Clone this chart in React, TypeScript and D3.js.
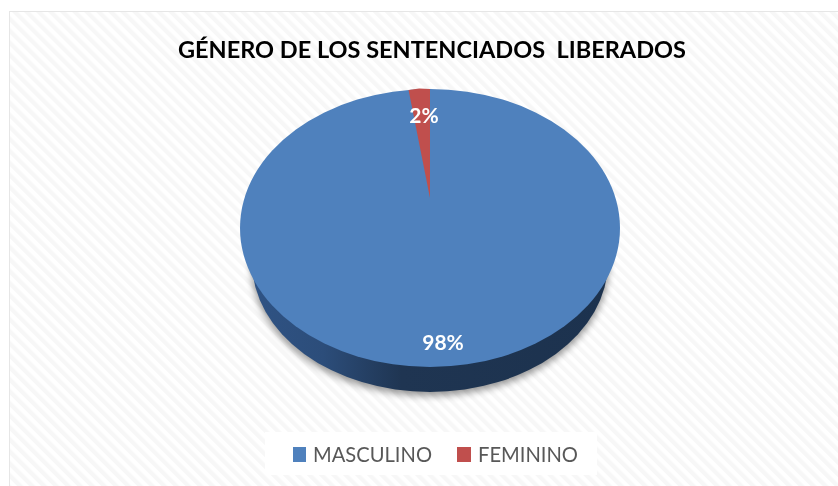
import React from "react";
import * as d3 from "d3";

const categories = ["MASCULINO", "FEMININO"];
const values = [98.2, 1.8];
const labels = ["98%", "2%"];
const colors = ["#4f81bd", "#c0504d"];
const title = "GÉNERO DE LOS SENTENCIADOS  LIBERADOS";

const W = 838, H = 486;
const cx = 430, cy = 228, rx = 190, ry = 139;
const apexY = 198;
const base = { cx: 430, cy: 262, rx: 178, ry: 130 };

const FONT = "Lato, 'Open Sans', sans-serif";

export default function App() {
  // Clockwise from 12 o'clock, so that FEMININO ends exactly at the top.
  const arcs = d3.pie<number>().sort(null).startAngle(0).endAngle(2 * Math.PI)(values);
  const fem = arcs[1];
  const px = d3.scaleLinear().domain([-1, 1]).range([cx - rx, cx + rx]);
  const py = d3.scaleLinear().domain([-1, 1]).range([cy - ry, cy + ry]);
  const pt = (a: number): [number, number] => [px(Math.sin(a)), py(-Math.cos(a))];
  const [x0, y0] = pt(fem.startAngle);
  const [x1, y1] = pt(fem.endAngle);
  const wedge = d3.path();
  wedge.moveTo(cx, apexY);
  wedge.lineTo(x0, y0);
  wedge.lineTo((x0 + x1) / 2, Math.min(y0, y1) - 0.5);
  wedge.lineTo(x1, y1);
  wedge.closePath();

  return (
    <svg width={W} height={H} viewBox={`0 0 ${W} ${H}`} style={{ position: "fixed", left: 0, top: 0, background: "#fff" }}>
      <defs>
        <pattern id="stripes" width={8.5} height={8.5} patternUnits="userSpaceOnUse" patternTransform="rotate(-45)">
          <rect width={8.5} height={8.5} fill="#ffffff" />
          <rect width={4.2} height={8.5} fill="#f7f7f7" />
        </pattern>
        <linearGradient id="side" x1="0" x2="1" y1="0" y2="0">
          <stop offset="0" stopColor="#2f5384" />
          <stop offset="0.2" stopColor="#2c4d7a" />
          <stop offset="0.42" stopColor="#1f3552" />
          <stop offset="1" stopColor="#1c324e" />
        </linearGradient>
        <filter id="shadow" x="-10%" y="-10%" width="120%" height="125%">
          <feGaussianBlur stdDeviation="3.5" />
        </filter>
        <filter id="soft" x="-5%" y="-5%" width="110%" height="110%">
          <feGaussianBlur stdDeviation="0.6" />
        </filter>
      </defs>
      <rect x={9.5} y={11.5} width={W} height={H} fill="url(#stripes)" stroke="#e6e6e6" />
      <rect x={265} y={432} width={332} height={43} fill="#ffffff" />
      <ellipse cx={base.cx} cy={base.cy + 3} rx={base.rx + 1} ry={base.ry + 1} fill="#000" opacity={0.4} filter="url(#shadow)" />
      <ellipse cx={base.cx} cy={base.cy} rx={base.rx} ry={base.ry} fill="url(#side)" />
      <g filter="url(#soft)">
        <ellipse cx={cx} cy={cy} rx={rx} ry={ry} fill={colors[0]} />
        <path d={wedge.toString()} fill={colors[1]} />
        <text x={432} y={58} textAnchor="middle" fontFamily={FONT} fontWeight={700} fontSize={23} fill="#000" textLength={508} lengthAdjust="spacingAndGlyphs" xmlSpace="preserve">{title}</text>
        <text x={424} y={123} textAnchor="middle" fontFamily={FONT} fontWeight={700} fontSize={21} fill="#fff">{labels[1]}</text>
        <text x={443} y={350} textAnchor="middle" fontFamily={FONT} fontWeight={700} fontSize={21} fill="#fff">{labels[0]}</text>
        <rect x={293} y={447} width={13} height={15} fill={colors[0]} />
        <text x={313} y={462} fontFamily={FONT} fontSize={22} fill="#595959" textLength={119} lengthAdjust="spacingAndGlyphs">{categories[0]}</text>
        <rect x={457} y={447} width={14} height={15} fill={colors[1]} />
        <text x={478} y={462} fontFamily={FONT} fontSize={22} fill="#595959" textLength={100} lengthAdjust="spacingAndGlyphs">{categories[1]}</text>
      </g>
    </svg>
  );
}
